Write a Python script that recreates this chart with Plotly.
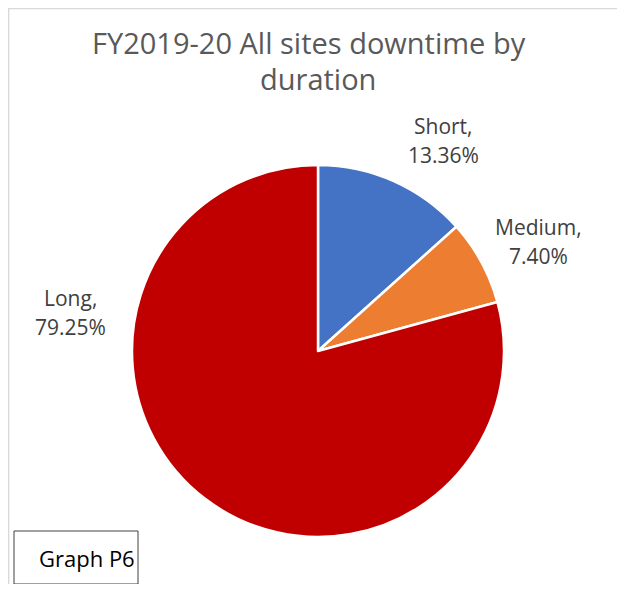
import plotly.graph_objects as go

categories = ["Short", "Medium", "Long"]
shares = [13.36, 7.40, 79.25]
colors = ["#4472C4", "#ED7D31", "#C00000"]
title_lines = ["FY2019-20 All sites downtime by", "duration"]
box_label = "Graph P6"

# page has an 8px body margin; figure sized to fill the 625x592 window
OFF = 8
W, H = 625 - 2 * OFF, 592 - 2 * OFF
FONT = "Open Sans"

def px(x):
    return (x - OFF) / W

def py(y):
    return 1 - (y - OFF) / H

fig = go.Figure()
fig.add_trace(go.Pie(
    labels=categories,
    values=shares,
    marker=dict(colors=colors, line=dict(color="white", width=2.5)),
    sort=False,
    direction="clockwise",
    rotation=0,
    textinfo="none",
    hoverinfo="label+percent",
    showlegend=False,
    domain=dict(x=[px(132), px(504)], y=[py(537), py(165)]),
))

annotations = []
title_pos = [(309, 43), (318, 79)]
for line, (x, y) in zip(title_lines, title_pos):
    annotations.append(dict(x=px(x), y=py(y), xref="paper", yref="paper", text=line,
                            showarrow=False, xanchor="center", yanchor="middle",
                            font=dict(family=FONT, size=29, color="#595959")))

label_pos = {"Short": (443, 126), "Medium": (538, 227), "Long": (70, 298)}
for cat, val in zip(categories, shares):
    x, y = label_pos[cat]
    for i, t in enumerate([f"{cat},", f"{val:.2f}%"]):
        annotations.append(dict(x=px(x), y=py(y + 29 * i), xref="paper", yref="paper", text=t,
                                showarrow=False, xanchor="center", yanchor="middle",
                                font=dict(family=FONT, size=21, color="#404040")))

annotations.append(dict(x=px(37), y=py(558), xref="paper", yref="paper", text=box_label,
                        showarrow=False, xanchor="left", yanchor="middle",
                        font=dict(family=FONT, size=22, color="#000000")))

shapes = [
    dict(type="line", xref="paper", yref="paper", x0=0.001, y0=0, x1=0.001, y1=1,
         line=dict(color="#D9D9D9", width=1.5), layer="below"),
    dict(type="line", xref="paper", yref="paper", x0=0, y0=0.999, x1=1, y1=0.999,
         line=dict(color="#D9D9D9", width=1.5), layer="below"),
    dict(type="rect", xref="paper", yref="paper", x0=px(14), y0=py(584), x1=px(138), y1=py(531),
         line=dict(color="#404040", width=1), fillcolor="white"),
]

fig.update_layout(
    width=W, height=H,
    margin=dict(l=0, r=0, t=0, b=0),
    paper_bgcolor="white", plot_bgcolor="white",
    annotations=annotations, shapes=shapes,
)

fig.write_html("out.html")
